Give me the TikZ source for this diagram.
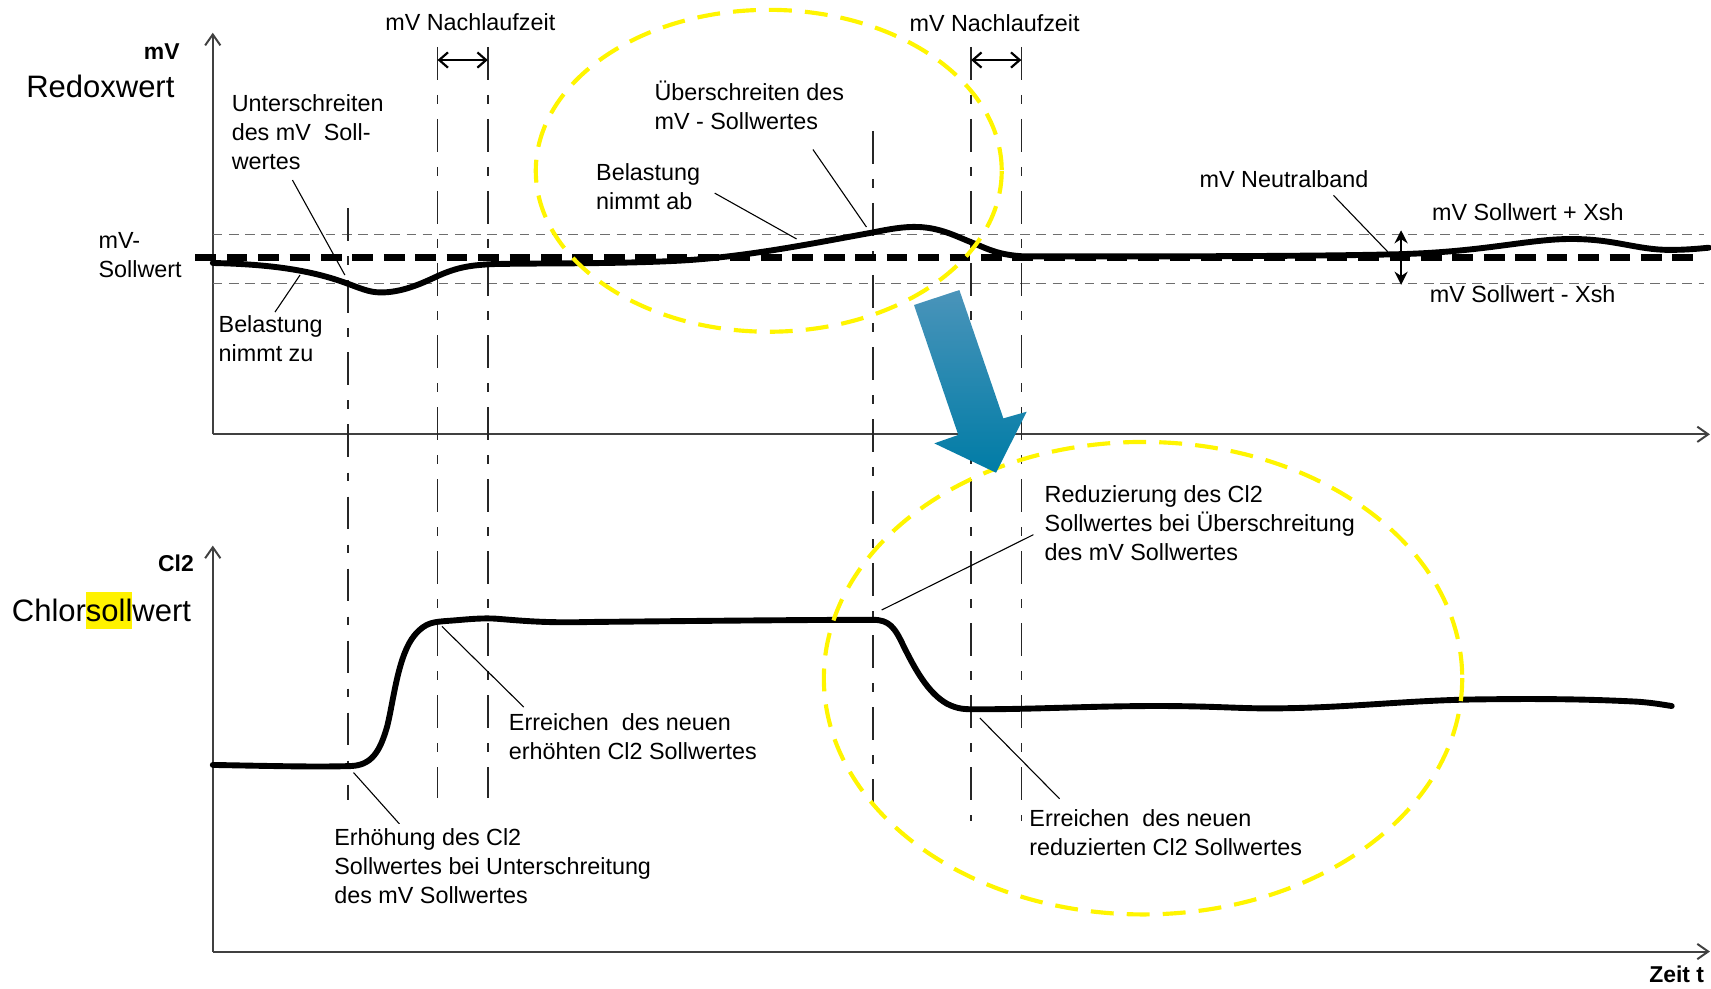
\documentclass[tikz,border=0pt]{standalone}
\usepackage{fontspec}
\setmainfont{Liberation Sans}
\usepackage{xcolor}
\usetikzlibrary{arrows.meta}
\definecolor{ringyellow}{RGB}{255,245,0}
\definecolor{arrtop}{RGB}{74,148,186}
\definecolor{arrbot}{RGB}{0,124,166}
\definecolor{bandgray}{RGB}{110,110,110}
\setlength{\fboxsep}{0pt}

\begin{document}
\begin{tikzpicture}[x=0.5pt,y=0.5pt,yscale=-1,xscale=1,
    txt/.style={font=\fontsize{10.7}{13.3}\selectfont, align=left, inner sep=0pt, anchor=base west},
    bigtxt/.style={font=\fontsize{14.2}{17}\selectfont, inner sep=0pt, anchor=base},
    axtxt/.style={font=\bfseries\fontsize{10.5}{13}\selectfont, inner sep=0pt, anchor=base east},
    axisline/.style={line width=0.9pt, black!75, -{Straight Barb[length=5pt,width=7pt]}},
    bandline/.style={line width=0.55pt, bandgray, dash pattern=on 4.4pt off 3pt},
    setline/.style={line width=2.8pt, dash pattern=on 9.5pt off 4.9pt},
    markline/.style={line width=0.7pt, black!85, dash pattern=on 15pt off 7pt on 4pt off 7pt},
    plotline/.style={line width=2.7pt, line cap=round, line join=round},
    leader/.style={line width=0.5pt},
    timearrow/.style={line width=1pt, {Straight Barb[length=4pt,width=7pt]}-{Straight Barb[length=4pt,width=7pt]}},
    bandarrow/.style={line width=1.2pt, {Stealth[length=6pt,width=6pt]}-{Stealth[length=6pt,width=6pt]}},
    ringline/.style={line width=1.9pt, ringyellow, dash pattern=on 10.5pt off 6pt}
  ]
    \useasboundingbox (0,0) rectangle (1568,906);

    %Shape: Axis 2D (Redox)
    \coordinate (o1) at (195,398);
    \coordinate (y1) at (195,30);
    \coordinate (x1) at (1567,398);
    \draw[axisline] (o1) -- (y1);
    \draw[axisline] (o1) -- (x1);
    %Shape: Axis 2D (Cl2)
    \coordinate (o2) at (195,872);
    \coordinate (y2) at (195,500);
    \coordinate (x2) at (1567,872);
    \draw[axisline] (o2) -- (y2);
    \draw[axisline] (o2) -- (x2);

    %Straight Lines: band limits
    \draw[bandline] (195,215) -- (1562,215);
    \draw[bandline] (195,260) -- (1562,260);

    %Straight Lines: time markers
    \foreach \xm/\ytop/\ybot in {319/191/733, 401/43/731, 447/43/731, 800/120/735, 890/43/752, 936/43/752}
      \draw[markline] (\xm,\ytop) -- (\xm,\ybot);

    %Straight Lines: setpoint
    \draw[setline] (179,236) -- (1556,236);

    %Curve Lines: redox value
    \draw[plotline] (195,241) .. controls (240,242) and (280,246) .. (316,259)
      .. controls (330,264) and (338,268) .. (349,268)
      .. controls (368,268) and (385,260.5) .. (401,253)
      .. controls (420,244.5) and (432,243) .. (452,242)
      .. controls (500,241) and (560,242) .. (620,239)
      .. controls (680,236) and (740,224) .. (800,213)
      .. controls (815,210) and (828,207.5) .. (842,208)
      .. controls (862,209) and (875,216) .. (890,222)
      .. controls (905,228) and (915,234) .. (940,235)
      .. controls (1050,235) and (1200,235) .. (1280,233)
      .. controls (1360,231) and (1400,219) .. (1440,219)
      .. controls (1480,219) and (1500,229) .. (1530,229)
      .. controls (1545,229) and (1555,228) .. (1566,227);

    %Curve Lines: chlorine setpoint
    \draw[plotline] (195,701) .. controls (250,702) and (290,703) .. (322,702)
      .. controls (340,701) and (348,690) .. (355,665)
      .. controls (361,640) and (365,600) .. (380,582)
      .. controls (390,570) and (398,570) .. (410,569)
      .. controls (425,568) and (440,566) .. (455,567)
      .. controls (480,569) and (500,571) .. (540,570)
      .. controls (640,569) and (740,568) .. (800,568)
      .. controls (815,568) and (820,575) .. (828,592)
      .. controls (838,612) and (850,635) .. (868,645)
      .. controls (878,650) and (884,650) .. (895,650)
      .. controls (950,650) and (1000,647) .. (1060,647)
      .. controls (1120,647) and (1140,650) .. (1180,649)
      .. controls (1240,648) and (1290,642) .. (1350,641)
      .. controls (1420,640) and (1460,641) .. (1500,643)
      .. controls (1515,644) and (1525,646) .. (1532,647);

    % Double arrows
    \coordinate (n1a) at (401,55);
    \coordinate (n1b) at (447,55);
    \coordinate (n2a) at (890,55);
    \coordinate (n2b) at (936,55);
    \coordinate (nbtop) at (1284,211);
    \coordinate (nbbot) at (1284,261);
    \draw[timearrow] (n1a) -- (n1b);
    \draw[timearrow] (n2a) -- (n2b);
    \draw[bandarrow] (nbtop) -- (nbbot);

    % Text Node
    \node[bigtxt] (redox) at (92,89) {Redoxwert};
    % Text Node
    \node[bigtxt] (chlor) at (93,570) {Chlor\colorbox{yellow}{\rule[-3pt]{0pt}{16.75pt}soll}wert};
    % Text Node
    \node[axtxt] (mvax) at (165,54.5) {mV};
    % Text Node
    \node[axtxt] (clax) at (178,524) {Cl2};
    % Text Node
    \node[axtxt] (zeit) at (1562,900) {Zeit t};
    % Text Node
    \node[txt] (mvsoll) at (90,254) {mV-\\Sollwert};
    % Text Node
    \node[txt, anchor=base] (nach1) at (431,28) {mV Nachlaufzeit};
    % Text Node
    \node[txt, anchor=base] (nach2) at (911.5,29) {mV Nachlaufzeit};
    % Text Node
    \node[txt] (unter) at (212,155.2) {Unterschreiten\\des mV\ \ Soll-\\wertes};
    % Text Node
    \node[txt] (belzu) at (200,331.6) {Belastung\\nimmt zu};
    % Text Node
    \node[txt] (ueber) at (599.5,118.9) {Überschreiten des\\mV - Sollwertes};
    % Text Node
    \node[txt] (belab) at (546,191.6) {Belastung\\nimmt ab};
    % Text Node
    \node[txt] (neutral) at (1099,172) {mV Neutralband};
    % Text Node
    \node[txt] (plus) at (1312,202) {mV Sollwert + Xsh};
    % Text Node
    \node[txt] (minus) at (1310,277) {mV Sollwert - Xsh};
    % Text Node
    \node[txt] (erhoeht) at (466,695.6) {Erreichen\ \ des neuen\\erhöhten Cl2 Sollwertes};
    % Text Node
    \node[txt] (erhoehung) at (306,828.2) {Erhöhung des Cl2\\Sollwertes bei Unterschreitung\\des mV Sollwertes};
    % Text Node
    \node[txt] (reduz) at (957,513.7) {Reduzierung des Cl2\\Sollwertes bei Überschreitung\\des mV Sollwertes};
    % Text Node
    \node[txt] (reduziert) at (943,784.1) {Erreichen\ \ des neuen\\reduzierten Cl2 Sollwertes};

    % Leader lines
    \coordinate (unterTail) at (268,165);   \coordinate (unterHead) at (316,252);
    \coordinate (belzuTail) at (252,286);   \coordinate (belzuHead) at (275,252);
    \coordinate (belabTail) at (655,177);   \coordinate (belabHead) at (730,219);
    \coordinate (ueberTail) at (745,137);   \coordinate (ueberHead) at (794,208);
    \coordinate (neutralTail) at (1222,179); \coordinate (neutralHead) at (1272,231);
    \coordinate (erhoehtTail) at (480,648); \coordinate (erhoehtHead) at (405,574);
    \coordinate (erhoehungTail) at (366,755); \coordinate (erhoehungHead) at (324,708);
    \coordinate (reduzTail) at (947,490);   \coordinate (reduzHead) at (808,559);
    \coordinate (reduziertTail) at (971,732); \coordinate (reduziertHead) at (898,658);
    \foreach \ld in {unter,belzu,belab,ueber,neutral,erhoeht,erhoehung,reduz,reduziert}
      \draw[leader] (\ld Tail) -- (\ld Head);

    %Shape: Ellipse
    \draw[ringline] (704.5,156.5) ellipse [x radius=213.5, y radius=147.5];
    %Shape: Ellipse
    \draw[ringline] (1047.5,621.5) ellipse [x radius=292.5, y radius=216.5];

    %Shape: Arrow
    \shade[top color=arrtop, bottom color=arrbot] (837.6,279.5) -- (879.2,265.8) -- (919.5,383.4)
      -- (940.9,377.3) -- (912.8,433.2) -- (856.2,406.3) -- (878.2,398.6) -- cycle;
\end{tikzpicture}
\end{document}
